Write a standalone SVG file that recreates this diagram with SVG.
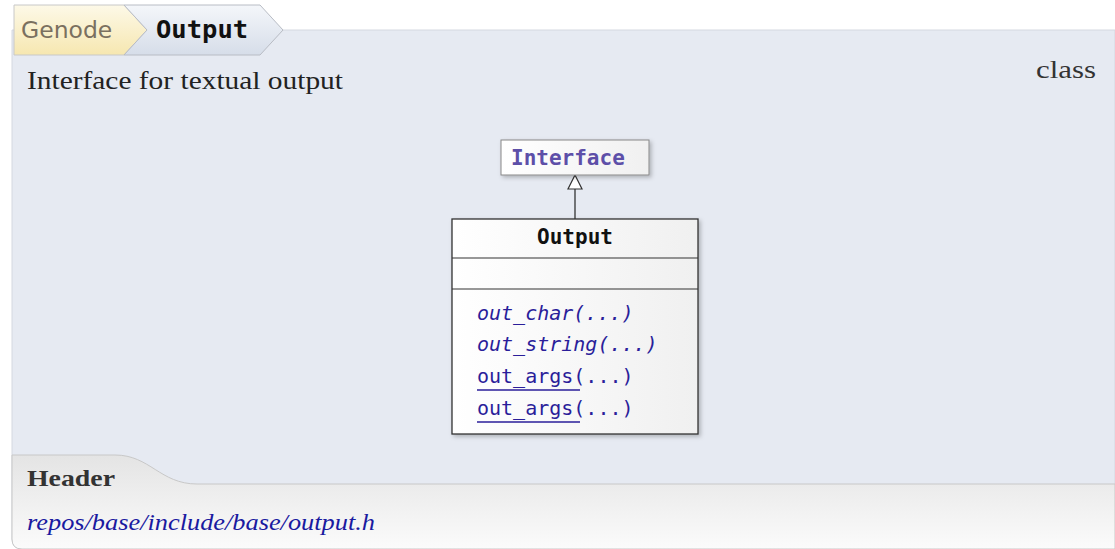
<svg xmlns="http://www.w3.org/2000/svg" width="1115" height="549" viewBox="0 0 1115 549">
<defs>
<linearGradient id="gy" x1="0" y1="0" x2="0" y2="1"><stop offset="0" stop-color="#fdf9e8"/><stop offset="1" stop-color="#f6e7b0"/></linearGradient>
<linearGradient id="gb" x1="0" y1="0" x2="0" y2="1"><stop offset="0" stop-color="#f4f6fa"/><stop offset="1" stop-color="#d6dde9"/></linearGradient>
<linearGradient id="gf" x1="0" y1="0" x2="0" y2="1"><stop offset="0" stop-color="#e4e4e4"/><stop offset="1" stop-color="#fbfbfb"/></linearGradient>
<linearGradient id="gn" x1="0" y1="0" x2="1" y2="0"><stop offset="0" stop-color="#ffffff"/><stop offset="1" stop-color="#f0f0f0"/></linearGradient>
<filter id="sh" x="-10%" y="-10%" width="130%" height="130%"><feDropShadow dx="2" dy="2" stdDeviation="2" flood-color="#000" flood-opacity="0.25"/></filter>
<style>
.serif{font-family:"Liberation Serif","DejaVu Serif",serif;}
.mono{font-family:"DejaVu Sans Mono","Liberation Mono",monospace;}
.m{font-size:20px;fill:#2a1e9a;}
</style>
</defs>
<rect width="1115" height="549" fill="#fff"/>
<g id="panel">
<path d="M12,30 H1115 V549 H22 Q12,549 12,539 Z" fill="#e6eaf2" stroke="#d4d8e0"/>
<path d="M12,455 H115 C150,455 160,484 197,484 H1115 V549 H22 Q12,549 12,539 Z" fill="url(#gf)" stroke="#c8c8c8"/>
<text x="27" y="89" class="serif" font-size="25" fill="#222" textLength="316" lengthAdjust="spacingAndGlyphs">Interface for textual output</text>
<text x="1036" y="78" class="serif" font-size="26" fill="#333" textLength="60" lengthAdjust="spacingAndGlyphs">class</text>
<text x="27" y="486" class="serif" font-size="23" font-weight="bold" fill="#333" textLength="88" lengthAdjust="spacingAndGlyphs">Header</text>
<text x="27" y="530" class="serif" font-size="23" font-style="italic" fill="#1a1aa0" textLength="348" lengthAdjust="spacingAndGlyphs">repos/base/include/base/output.h</text>
</g>
<g id="breadcrumb">
<path d="M14,5 H124 L147,30 L124,55 H14 Z" fill="url(#gy)" stroke="#c8c8c8"/>
<path d="M124,5 H260 L283,30 L260,55 H124 L147,30 Z" fill="url(#gb)" stroke="#b8bcc4"/>
<text x="21" y="38" font-family="DejaVu Sans, sans-serif" font-size="23.5" fill="#7a7060">Genode</text>
<text x="156" y="38" class="mono" font-size="25.5" font-weight="bold" fill="#111">Output</text>
</g>
<g id="connectors">
<line x1="575" y1="219" x2="575" y2="189" stroke="#333" stroke-width="1.3"/>
<path d="M575,175 L568,189 L582,189 Z" fill="#fff" stroke="#333" stroke-width="1.2"/>
</g>
<g id="node-interface">
<rect x="501" y="140" width="148" height="35" fill="url(#gn)" stroke="#888" filter="url(#sh)"/>
<text x="511" y="165" class="mono" font-size="21" font-weight="bold" fill="#5d4fa8">Interface</text>
</g>
<g id="node-output">
<rect x="452" y="219" width="246" height="215" fill="url(#gn)" stroke="#333" stroke-width="1.3" filter="url(#sh)"/>
<line x1="452" y1="258" x2="698" y2="258" stroke="#333" stroke-width="1.2"/>
<line x1="452" y1="289" x2="698" y2="289" stroke="#333" stroke-width="1.2"/>
<text x="575" y="244" class="mono" font-size="21" font-weight="bold" fill="#111" text-anchor="middle">Output</text>
<text x="477" y="320" class="mono m" font-style="italic">out_char(...)</text>
<text x="477" y="351" class="mono m" font-style="italic">out_string(...)</text>
<text x="477" y="383" class="mono m">out_args(...)</text>
<line x1="477" y1="390" x2="580" y2="390" stroke="#2a1e9a" stroke-width="1.3"/>
<text x="477" y="415" class="mono m">out_args(...)</text>
<line x1="477" y1="422" x2="580" y2="422" stroke="#2a1e9a" stroke-width="1.3"/>
</g>
</svg>
